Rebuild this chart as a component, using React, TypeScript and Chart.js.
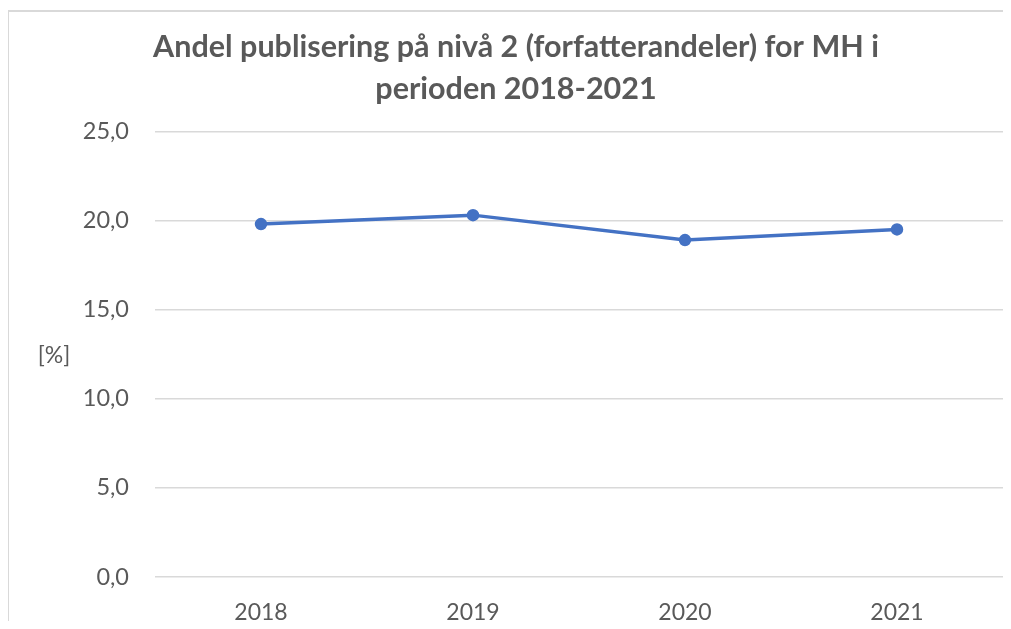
import React, { useEffect, useRef } from "react";
import { Chart, registerables } from "chart.js";

Chart.register(...registerables);

const categories = ["2018", "2019", "2020", "2021"];
const shareValues = [19.8, 20.3, 18.9, 19.5];
const titleLines = ["Andel publisering på nivå 2 (forfatterandeler) for MH i", "perioden 2018-2021"];
const yAxisLabel = "[%]";
const yMin = 0;
const yMax = 25;
const yStep = 5;

const FONT = "Lato, 'Open Sans', sans-serif";
const TEXT = "#595959";
const GRID = "#d9d9d9";
const LINE = "#4472C4";

const axisLabelPlugin = {
  id: "axisLabel",
  afterDraw(chart: any) {
    const { ctx, chartArea } = chart;
    ctx.save();
    ctx.font = `23px ${FONT}`;
    ctx.fillStyle = TEXT;
    ctx.textAlign = "center";
    ctx.textBaseline = "middle";
    ctx.fillText(yAxisLabel, 45, chartArea.top + (chartArea.bottom - chartArea.top) * 0.504);
    ctx.restore();
  },
};

export default function App() {
  const ref = useRef<HTMLCanvasElement | null>(null);
  useEffect(() => {
    document.documentElement.style.overflow = "hidden";
    document.body.style.overflow = "hidden";
    if (!ref.current) return;
    const chart = new Chart(ref.current, {
      type: "line",
      data: {
        labels: categories,
        datasets: [
          {
            data: shareValues,
            borderColor: LINE,
            backgroundColor: LINE,
            borderWidth: 3.5,
            pointRadius: 4.5,
            pointBackgroundColor: LINE,
            pointBorderColor: LINE,
            tension: 0,
          },
        ],
      },
      options: {
        animation: false,
        responsive: false,
        layout: { padding: { left: 18, right: 6, top: 0, bottom: 0 } },
        plugins: {
          legend: { display: false },
          tooltip: { enabled: false },
          title: {
            display: true,
            text: titleLines,
            color: TEXT,
            font: { family: FONT, size: 30.5, weight: "bold", lineHeight: 1.35 },
            padding: { top: 15, bottom: 22 },
          },
        },
        scales: {
          x: {
            offset: true,
            grid: { display: false, drawTicks: false },
            border: { display: false },
            ticks: { color: TEXT, font: { family: FONT, size: 23 }, padding: 22 },
            afterFit(scale: any) {
              scale.height = 44;
            },
          },
          y: {
            min: yMin,
            max: yMax,
            grid: { color: GRID, lineWidth: 1.5, drawTicks: false },
            border: { display: false },
            ticks: {
              stepSize: yStep,
              color: TEXT,
              font: { family: FONT, size: 23.5 },
              padding: 26,
              callback: (v: any) => Number(v).toFixed(1).replace(".", ","),
            },
            afterFit(scale: any) {
              scale.width = 128;
            },
          },
        },
      },
      plugins: [axisLabelPlugin],
    });
    return () => chart.destroy();
  }, []);
  return (
    <div
      style={{
        marginTop: 2,
        marginLeft: -1,
        width: 1004,
        height: 611,
        borderTop: "2px solid #d9d9d9",
        borderLeft: "2px solid #d9d9d9",
        boxSizing: "border-box",
        background: "#fff",
        overflow: "hidden",
      }}
    >
      <canvas ref={ref} width={1002} height={609} style={{ display: "block" }} />
    </div>
  );
}
